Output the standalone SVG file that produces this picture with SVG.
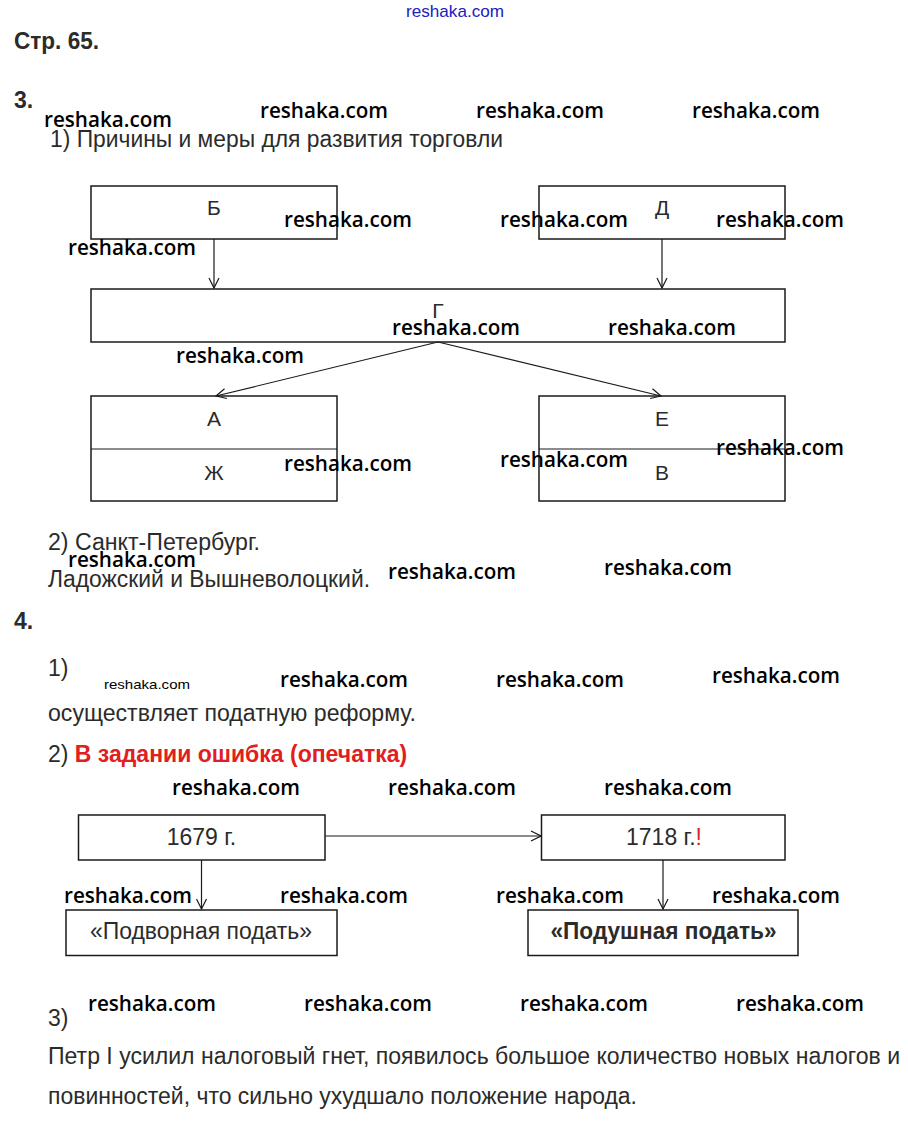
<svg xmlns="http://www.w3.org/2000/svg" width="908" height="1122" viewBox="0 0 908 1122">
<style>
.t{font-family:"Liberation Sans",Arial,sans-serif;font-size:23px;fill:#2b2b2b}
.l{font-family:"Liberation Sans",Arial,sans-serif;font-size:21px;fill:#2b2b2b;text-anchor:middle}
.b{font-weight:bold}
.w{font-family:"Open Sans","Liberation Sans",sans-serif;font-weight:600;font-size:22px;fill:#000}
.c{text-anchor:middle}
.box{fill:none;stroke:#1a1a1a;stroke-width:1.5}
.ln{fill:none;stroke:#1a1a1a;stroke-width:1.2}
</style>
<defs>
<marker id="ah" viewBox="0 0 12 12" refX="11" refY="6" markerWidth="12" markerHeight="12" markerUnits="userSpaceOnUse" orient="auto">
<path d="M1,1 L11,6 L1,11" fill="none" stroke="#1a1a1a" stroke-width="1.2"/>
</marker>
</defs>
<rect width="908" height="1122" fill="#fff"/>
<text x="455" y="17" class="c" style="font-family:'Liberation Sans',Arial,sans-serif;font-size:17px;fill:#2020c0" textLength="98" lengthAdjust="spacingAndGlyphs">reshaka.com</text>
<text x="14" y="49" class="t b" textLength="85" lengthAdjust="spacingAndGlyphs">Стр. 65.</text>
<text x="14" y="108" class="t b">3.</text>
<text x="50" y="147" class="t" textLength="453" lengthAdjust="spacingAndGlyphs">1) Причины и меры для развития торговли</text>

<g id="node-B"><rect x="91" y="186" width="246" height="53" class="box"/><text x="214" y="215" class="l">Б</text></g>
<g id="node-D"><rect x="539" y="186" width="246" height="53" class="box"/><text x="662" y="215" class="l">Д</text></g>
<g id="node-G"><rect x="91" y="289" width="694" height="53" class="box"/><text x="438" y="318" class="l">Г</text></g>
<g id="node-AZh"><rect x="91" y="396" width="246" height="105" class="box"/><line x1="91" y1="449" x2="337" y2="449" class="ln"/><text x="214" y="426" class="l">А</text><text x="214" y="480" class="l">Ж</text></g>
<g id="node-EV"><rect x="539" y="396" width="246" height="105" class="box"/><line x1="539" y1="449" x2="785" y2="449" class="ln"/><text x="662" y="426" class="l">Е</text><text x="662" y="480" class="l">В</text></g>

<g id="connectors">
<line x1="214" y1="239" x2="214" y2="288" class="ln" marker-end="url(#ah)"/>
<line x1="662" y1="239" x2="662" y2="288" class="ln" marker-end="url(#ah)"/>
<line x1="438" y1="342" x2="216" y2="396" class="ln" marker-end="url(#ah)"/>
<line x1="438" y1="342" x2="661" y2="396" class="ln" marker-end="url(#ah)"/>
<line x1="325" y1="836" x2="541" y2="836" class="ln" marker-end="url(#ah)"/>
<line x1="201.5" y1="860" x2="201.5" y2="909" class="ln" marker-end="url(#ah)"/>
<line x1="663" y1="860" x2="663" y2="909" class="ln" marker-end="url(#ah)"/>
</g>

<text x="48" y="550" class="t" textLength="212" lengthAdjust="spacingAndGlyphs">2) Санкт-Петербург.</text>
<text x="48" y="587" class="t" textLength="322" lengthAdjust="spacingAndGlyphs">Ладожский и Вышневолоцкий.</text>
<text x="14" y="629" class="t b">4.</text>
<text x="48" y="676" class="t">1)</text>
<text x="48" y="721" class="t" textLength="368" lengthAdjust="spacingAndGlyphs">осуществляет податную реформу.</text>
<text x="48" y="762" class="t">2) <tspan class="b" fill="#e02020">В задании ошибка (опечатка)</tspan></text>

<g id="node-1679"><rect x="78.5" y="815" width="246.5" height="45" class="box"/><text x="201.5" y="845" class="t c">1679 г.</text></g>
<g id="node-1718"><rect x="541.5" y="815" width="243.5" height="45" class="box"/><text x="664" y="845" class="t c">1718 г.<tspan fill="#e02020">!</tspan></text></g>
<g id="node-podvor"><rect x="66" y="910" width="271" height="45.5" class="box"/><text x="201" y="939" class="t c" textLength="222" lengthAdjust="spacingAndGlyphs">«Подворная подать»</text></g>
<g id="node-podush"><rect x="528" y="910" width="270" height="45.5" class="box"/><text x="663.5" y="939" class="t c b" textLength="226" lengthAdjust="spacingAndGlyphs">«Подушная подать»</text></g>

<text x="48" y="1026" class="t">3)</text>
<text x="48" y="1064" class="t" textLength="852" lengthAdjust="spacingAndGlyphs">Петр I усилил налоговый гнет, появилось большое количество новых налогов и</text>
<text x="48" y="1104" class="t" textLength="589" lengthAdjust="spacingAndGlyphs">повинностей, что сильно ухудшало положение народа.</text>

<g id="watermarks">
<text x="44" y="127" class="w" textLength="128" lengthAdjust="spacingAndGlyphs">reshaka.com</text>
<text x="260" y="118" class="w" textLength="128" lengthAdjust="spacingAndGlyphs">reshaka.com</text>
<text x="476" y="118" class="w" textLength="128" lengthAdjust="spacingAndGlyphs">reshaka.com</text>
<text x="692" y="118" class="w" textLength="128" lengthAdjust="spacingAndGlyphs">reshaka.com</text>
<text x="284" y="227" class="w" textLength="128" lengthAdjust="spacingAndGlyphs">reshaka.com</text>
<text x="500" y="227" class="w" textLength="128" lengthAdjust="spacingAndGlyphs">reshaka.com</text>
<text x="716" y="227" class="w" textLength="128" lengthAdjust="spacingAndGlyphs">reshaka.com</text>
<text x="68" y="255" class="w" textLength="128" lengthAdjust="spacingAndGlyphs">reshaka.com</text>
<text x="392" y="335" class="w" textLength="128" lengthAdjust="spacingAndGlyphs">reshaka.com</text>
<text x="608" y="335" class="w" textLength="128" lengthAdjust="spacingAndGlyphs">reshaka.com</text>
<text x="176" y="363" class="w" textLength="128" lengthAdjust="spacingAndGlyphs">reshaka.com</text>
<text x="284" y="471" class="w" textLength="128" lengthAdjust="spacingAndGlyphs">reshaka.com</text>
<text x="500" y="467" class="w" textLength="128" lengthAdjust="spacingAndGlyphs">reshaka.com</text>
<text x="716" y="455" class="w" textLength="128" lengthAdjust="spacingAndGlyphs">reshaka.com</text>
<text x="68" y="567" class="w" textLength="128" lengthAdjust="spacingAndGlyphs">reshaka.com</text>
<text x="388" y="579" class="w" textLength="128" lengthAdjust="spacingAndGlyphs">reshaka.com</text>
<text x="604" y="575" class="w" textLength="128" lengthAdjust="spacingAndGlyphs">reshaka.com</text>
<text x="104" y="689" style="font-family:'Liberation Sans',Arial,sans-serif;font-size:13px;fill:#000" textLength="86" lengthAdjust="spacingAndGlyphs">reshaka.com</text>
<text x="280" y="687" class="w" textLength="128" lengthAdjust="spacingAndGlyphs">reshaka.com</text>
<text x="496" y="687" class="w" textLength="128" lengthAdjust="spacingAndGlyphs">reshaka.com</text>
<text x="712" y="683" class="w" textLength="128" lengthAdjust="spacingAndGlyphs">reshaka.com</text>
<text x="172" y="795" class="w" textLength="128" lengthAdjust="spacingAndGlyphs">reshaka.com</text>
<text x="388" y="795" class="w" textLength="128" lengthAdjust="spacingAndGlyphs">reshaka.com</text>
<text x="604" y="795" class="w" textLength="128" lengthAdjust="spacingAndGlyphs">reshaka.com</text>
<text x="64" y="903" class="w" textLength="128" lengthAdjust="spacingAndGlyphs">reshaka.com</text>
<text x="280" y="903" class="w" textLength="128" lengthAdjust="spacingAndGlyphs">reshaka.com</text>
<text x="496" y="903" class="w" textLength="128" lengthAdjust="spacingAndGlyphs">reshaka.com</text>
<text x="712" y="903" class="w" textLength="128" lengthAdjust="spacingAndGlyphs">reshaka.com</text>
<text x="88" y="1011" class="w" textLength="128" lengthAdjust="spacingAndGlyphs">reshaka.com</text>
<text x="304" y="1011" class="w" textLength="128" lengthAdjust="spacingAndGlyphs">reshaka.com</text>
<text x="520" y="1011" class="w" textLength="128" lengthAdjust="spacingAndGlyphs">reshaka.com</text>
<text x="736" y="1011" class="w" textLength="128" lengthAdjust="spacingAndGlyphs">reshaka.com</text>
</g>
</svg>
